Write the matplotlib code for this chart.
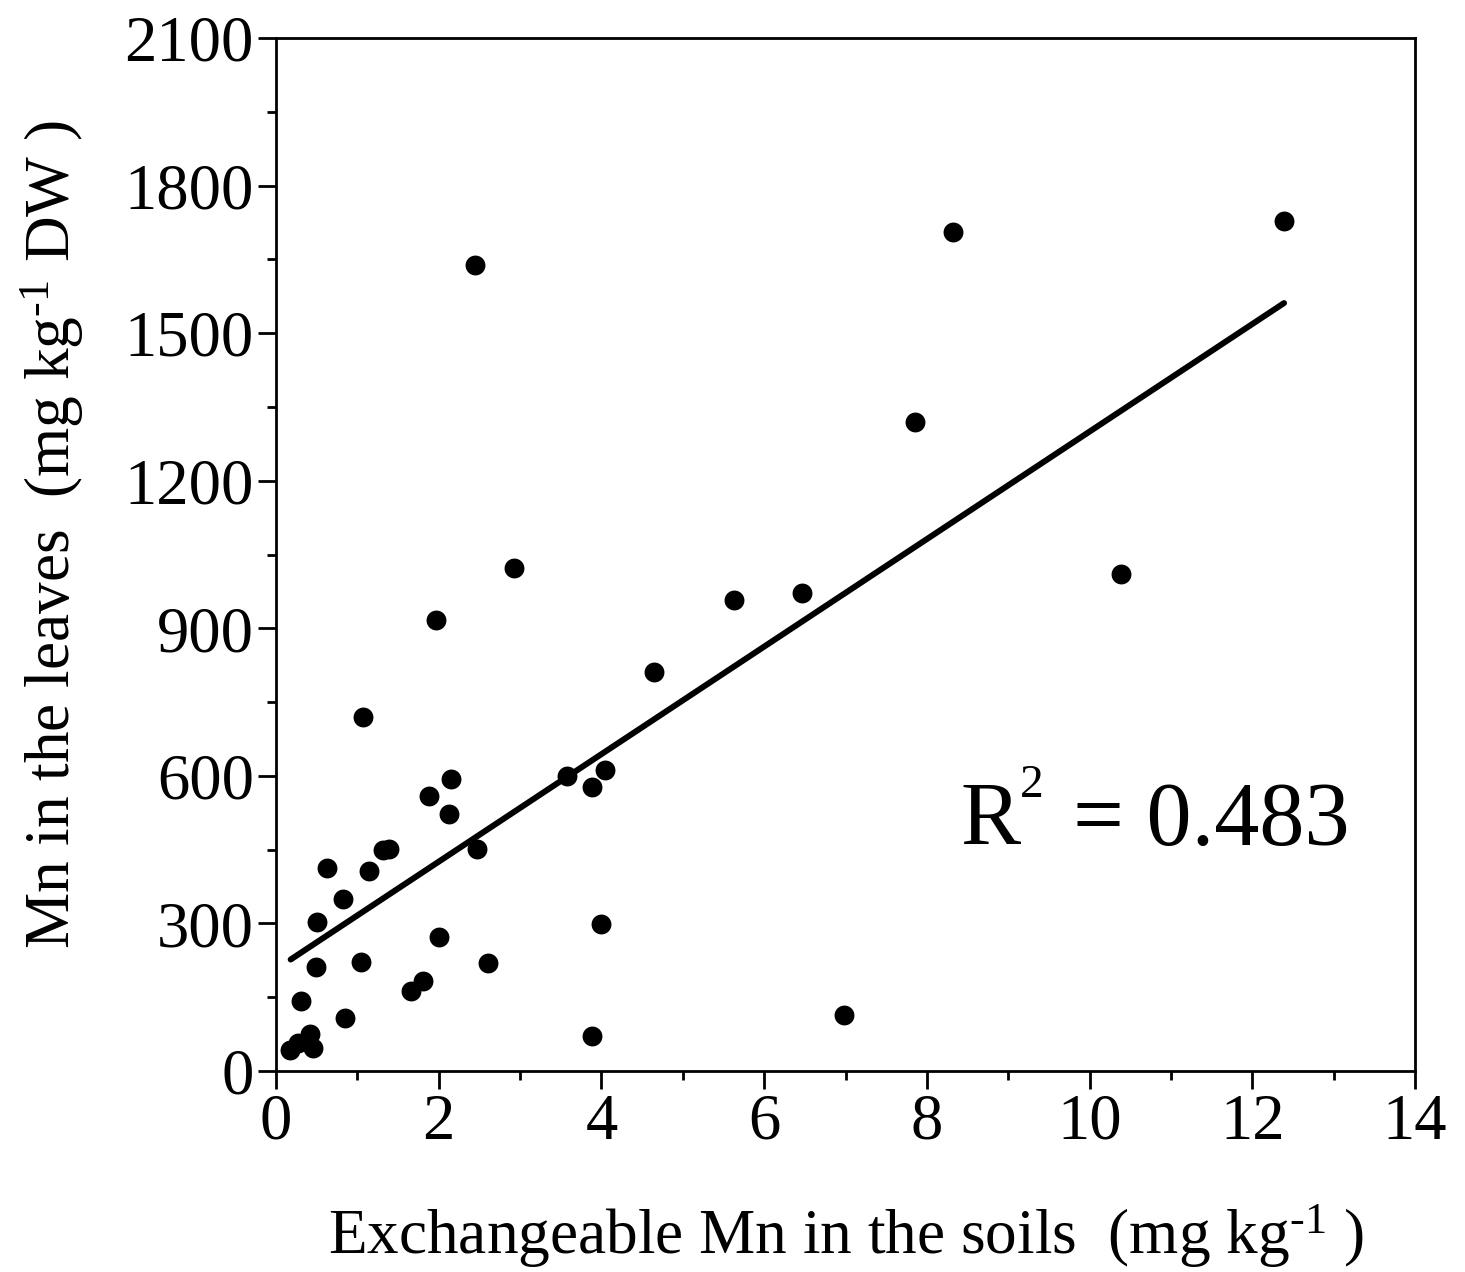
import matplotlib
matplotlib.use("Agg")
import matplotlib.pyplot as plt
import numpy as np
from matplotlib.ticker import MultipleLocator

plt.rcParams['font.family'] = ['Liberation Serif', 'DejaVu Serif']
plt.rcParams['mathtext.fontset'] = 'custom'
plt.rcParams['mathtext.rm'] = 'Liberation Serif'
plt.rcParams['mathtext.it'] = 'Liberation Serif:italic'
plt.rcParams['mathtext.bf'] = 'Liberation Serif:bold'

# Data
soil_mn = [0.17, 0.27, 0.42, 0.45, 0.31, 0.49, 0.51, 0.63, 0.82, 0.85,
           1.04, 1.07, 1.14, 1.31, 1.39, 1.66, 1.81, 1.88, 1.97, 2.00,
           2.13, 2.15, 2.45, 2.47, 2.61, 2.93, 3.58, 3.88, 3.88, 3.99,
           4.04, 4.65, 5.63, 6.47, 6.98, 7.85, 8.32, 10.39, 12.39]
leaf_mn = [43, 56, 75, 47, 142, 211, 302, 412, 349, 107,
           221, 720, 407, 449, 451, 163, 184, 559, 917, 272,
           522, 594, 1639, 452, 219, 1023, 600, 578, 72, 299,
           612, 811, 957, 972, 114, 1319, 1706, 1010, 1728]

fit_slope = 109.3
fit_intercept = 207.0
fit_range = [0.18, 12.39]
r_squared = 0.483
r2_anchor = (8.41, 459)

fig = plt.figure(figsize=(14.65, 12.72), dpi=100)
ax = fig.add_axes([0.1884, 0.158, 0.9659 - 0.1884, 0.9701 - 0.158])

ax.scatter(soil_mn, leaf_mn, s=205, color='black', zorder=3, linewidths=0)
fx = np.array(fit_range)
ax.plot(fx, fit_slope * fx + fit_intercept, color='black', lw=4.3,
        solid_capstyle='round', zorder=2)

ax.set_xlim(0, 14)
ax.set_ylim(0, 2100)
ax.xaxis.set_major_locator(MultipleLocator(2))
ax.xaxis.set_minor_locator(MultipleLocator(1))
ax.yaxis.set_major_locator(MultipleLocator(300))
ax.yaxis.set_minor_locator(MultipleLocator(150))

for s in ax.spines.values():
    s.set_linewidth(2.0)
ax.tick_params(which='major', direction='out', length=13, width=2,
               labelsize=46.5, pad=3, top=False, right=False)
ax.tick_params(which='minor', direction='out', length=6.5, width=2,
               top=False, right=False)

ax.set_xlabel(r'Exchangeable Mn in the soils  (mg kg$^{\text{-1}}$ )',
              fontsize=45.5, labelpad=36)
ax.set_ylabel(r'Mn in the leaves  (mg kg$^{\text{-1}}$ DW )',
              fontsize=45.5, labelpad=28)
ax.yaxis.label.set_y(0.519)

# R^2 annotation built from pieces (small raised superscript as in reference)
ax.annotate('R', xy=r2_anchor, xytext=(0, 0), textcoords='offset pixels',
            fontsize=65, ha='left', va='baseline')
ax.annotate('2', xy=r2_anchor, xytext=(60, 48), textcoords='offset pixels',
            fontsize=34, ha='left', va='baseline')
ax.annotate('= %.3f' % r_squared, xy=r2_anchor, xytext=(113, 0),
            textcoords='offset pixels', fontsize=65, ha='left',
            va='baseline')

fig.savefig('out.png', dpi=100)
